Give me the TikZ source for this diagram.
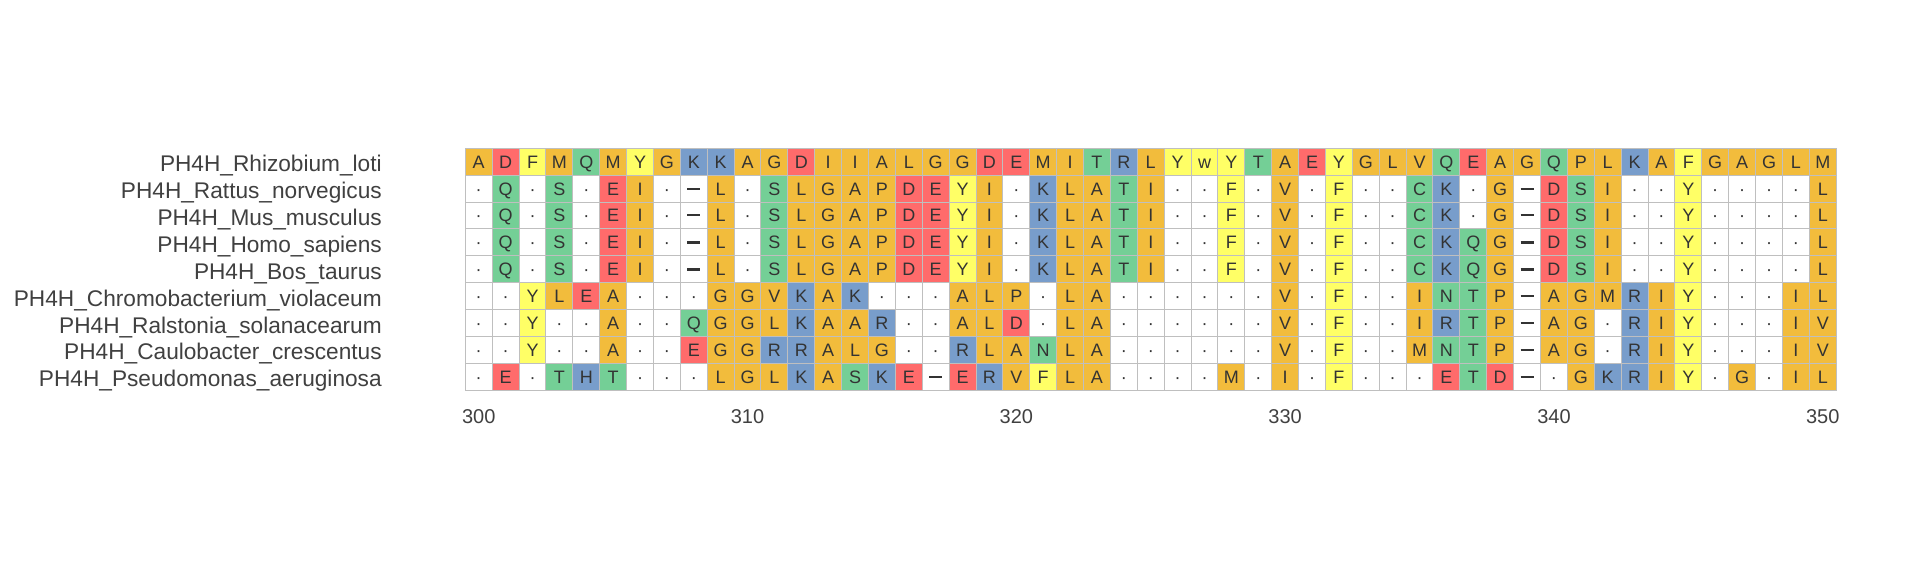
\documentclass[tikz,border=0pt]{standalone}
\usepackage{fontspec}
\setmainfont{Liberation Sans}
\definecolor{cO}{HTML}{F2BC3C}
\definecolor{cR}{HTML}{FF6B6B}
\definecolor{cY}{HTML}{FFFF66}
\definecolor{cG}{HTML}{74CF96}
\definecolor{cB}{HTML}{789DCB}
\definecolor{gridc}{HTML}{BFBFBF}
\definecolor{restxt}{HTML}{333333}
\definecolor{labtxt}{HTML}{404040}
\def\defres#1#2#3{\expandafter\def\csname rcol#1\endcsname{#2}\expandafter\def\csname rtxt#1\endcsname{#3}}
\defres{A}{cO}{A}\defres{G}{cO}{G}\defres{I}{cO}{I}\defres{L}{cO}{L}
\defres{M}{cO}{M}\defres{P}{cO}{P}\defres{V}{cO}{V}
\defres{D}{cR}{D}\defres{E}{cR}{E}
\defres{F}{cY}{F}\defres{Y}{cY}{Y}\defres{w}{cY}{w}
\defres{Q}{cG}{Q}\defres{S}{cG}{S}\defres{T}{cG}{T}\defres{N}{cG}{N}\defres{C}{cG}{C}
\defres{K}{cB}{K}\defres{R}{cB}{R}\defres{H}{cB}{H}
\defres{d}{white}{·}
\defres{g}{white}{\rule[4.1pt]{9.75pt}{1.5pt}}
\defres{b}{white}{\rule[3.7pt]{9.75pt}{2.4pt}}
\tikzset{
  cell/.style={draw=gridc, line width=0.75pt, inner sep=0pt,
    minimum width=20.16pt, minimum height=20.16pt,
    text=restxt, font=\fontsize{13.5pt}{16pt}\selectfont,
    text height=9.67pt, text depth=0pt},
  seqlab/.style={anchor=base east, inner sep=0pt, text=labtxt,
    font=\fontsize{17pt}{20pt}\selectfont},
  axlab/.style={anchor=base, inner sep=0pt, text=labtxt,
    font=\fontsize{15pt}{18pt}\selectfont}
}
\begin{document}
\begin{tikzpicture}[x=0.75pt,y=-0.75pt]
\useasboundingbox (0,0) rectangle (1920,576);
\foreach \row [count=\i from 0] in {
{A,D,F,M,Q,M,Y,G,K,K,A,G,D,I,I,A,L,G,G,D,E,M,I,T,R,L,Y,w,Y,T,A,E,Y,G,L,V,Q,E,A,G,Q,P,L,K,A,F,G,A,G,L,M},
{d,Q,d,S,d,E,I,d,g,L,d,S,L,G,A,P,D,E,Y,I,d,K,L,A,T,I,d,d,F,d,V,d,F,d,d,C,K,d,G,g,D,S,I,d,d,Y,d,d,d,d,L},
{d,Q,d,S,d,E,I,d,g,L,d,S,L,G,A,P,D,E,Y,I,d,K,L,A,T,I,d,d,F,d,V,d,F,d,d,C,K,d,G,g,D,S,I,d,d,Y,d,d,d,d,L},
{d,Q,d,S,d,E,I,d,b,L,d,S,L,G,A,P,D,E,Y,I,d,K,L,A,T,I,d,d,F,d,V,d,F,d,d,C,K,Q,G,b,D,S,I,d,d,Y,d,d,d,d,L},
{d,Q,d,S,d,E,I,d,b,L,d,S,L,G,A,P,D,E,Y,I,d,K,L,A,T,I,d,d,F,d,V,d,F,d,d,C,K,Q,G,b,D,S,I,d,d,Y,d,d,d,d,L},
{d,d,Y,L,E,A,d,d,d,G,G,V,K,A,K,d,d,d,A,L,P,d,L,A,d,d,d,d,d,d,V,d,F,d,d,I,N,T,P,g,A,G,M,R,I,Y,d,d,d,I,L},
{d,d,Y,d,d,A,d,d,Q,G,G,L,K,A,A,R,d,d,A,L,D,d,L,A,d,d,d,d,d,d,V,d,F,d,d,I,R,T,P,g,A,G,d,R,I,Y,d,d,d,I,V},
{d,d,Y,d,d,A,d,d,E,G,G,R,R,A,L,G,d,d,R,L,A,N,L,A,d,d,d,d,d,d,V,d,F,d,d,M,N,T,P,g,A,G,d,R,I,Y,d,d,d,I,V},
{d,E,d,T,H,T,d,d,d,L,G,L,K,A,S,K,E,g,E,R,V,F,L,A,d,d,d,d,M,d,I,d,F,d,d,d,E,T,D,g,d,G,K,R,I,Y,d,G,d,I,L}}
{
  \foreach \c [count=\j from 0] in \row {
    \pgfmathsetmacro\cx{465.3+(\j+0.5)*26.88}
    \pgfmathsetmacro\cy{148.3+(\i+0.5)*26.88}
    \edef\fc{\csname rcol\c\endcsname}
    \node[cell, fill=\fc] (c\i-\j) at (\cx,\cy) {\csname rtxt\c\endcsname};
  }
}
\foreach \nm [count=\i from 0] in {PH4H\_Rhizobium\_loti,PH4H\_Rattus\_norvegicus,PH4H\_Mus\_musculus,PH4H\_Homo\_sapiens,PH4H\_Bos\_taurus,PH4H\_Chromobacterium\_violaceum,PH4H\_Ralstonia\_solanacearum,PH4H\_Caulobacter\_crescentus,PH4H\_Pseudomonas\_aeruginosa}
{
  \pgfmathsetmacro\ly{148.3+(\i+0.5)*26.88+10}
  \node[seqlab] (lab\i) at (382,\ly) {\nm};
}
\foreach \k in {0,1,2,3,4,5}
{
  \pgfmathsetmacro\ax{465.3+(10*\k+0.5)*26.88}
  \pgfmathtruncatemacro\num{300+10*\k}
  \node[axlab] (t\k) at (\ax,423) {\num};
}
\end{tikzpicture}
\end{document}
